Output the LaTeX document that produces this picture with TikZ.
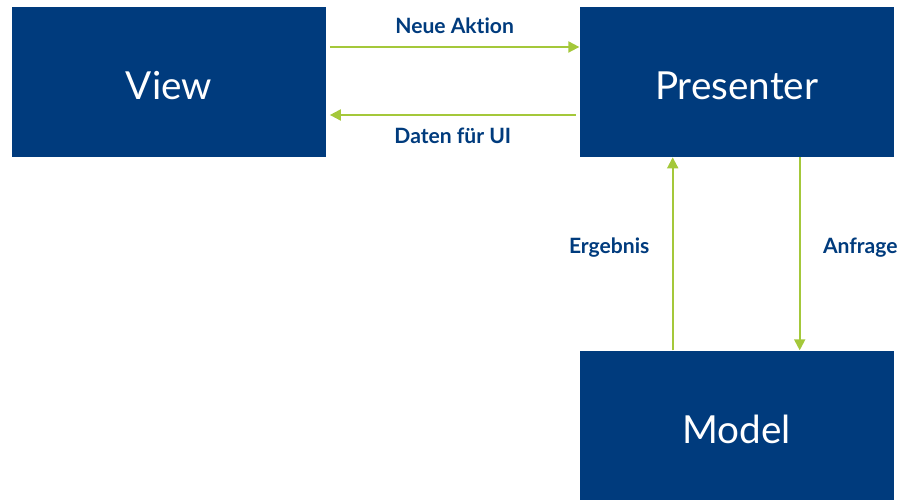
\documentclass[tikz,border=0pt]{standalone}
\usepackage{fontspec}
\setmainfont{Lato}[Ligatures=NoCommon]
\usepackage{tikz}
\usetikzlibrary{positioning}
\usetikzlibrary{arrows.meta}
\definecolor{mvpblue}{RGB}{0,59,125}
\definecolor{mvpgreen}{RGB}{164,200,58}

\begin{document}
\begin{tikzpicture}[>={Triangle[length=0.22cm,width=0.22cm]},
    block/.style={fill=mvpblue, minimum width=6.28cm, minimum height=3cm, inner sep=0pt,
        text height=20.4pt, text depth=0pt, text=white, font=\fontsize{22}{26}\selectfont},
    flow/.style={->, draw=mvpgreen, line width=1.1pt},
    lbl/.style={text=mvpblue, font=\fontsize{12}{14}\selectfont\bfseries}]
    \useasboundingbox (0,0) rectangle (18,10);
    \node (View) [block] at (3.38,8.36) {View};
    \node (Presenter) [block, right=5.06cm of View] {Presenter};
    \node (Model) [block, below=3.86cm of Presenter] {Model};
    % horizontal arrows
    \draw [flow] ([xshift=2pt,yshift=0.7cm]View.east) -- ([yshift=0.7cm]Presenter.west)
        node [midway, above=3.5pt, lbl] {Neue Aktion};
    \draw [flow] ([xshift=-2pt,yshift=-0.66cm]Presenter.west) -- ([xshift=2pt,yshift=-0.66cm]View.east)
        node [midway, below=3.5pt, lbl] {Daten für UI};
    % vertical arrows
    \draw [flow] ([xshift=-1.28cm]Model.north) -- ([xshift=-1.28cm]Presenter.south)
        node [midway, left=0.33cm, yshift=0.12cm, lbl] {Ergebnis};
    \draw [flow] ([xshift=1.26cm]Presenter.south) -- ([xshift=1.26cm]Model.north)
        node [midway, right=0.33cm, yshift=0.12cm, lbl] {Anfrage};
\end{tikzpicture}
\end{document}
